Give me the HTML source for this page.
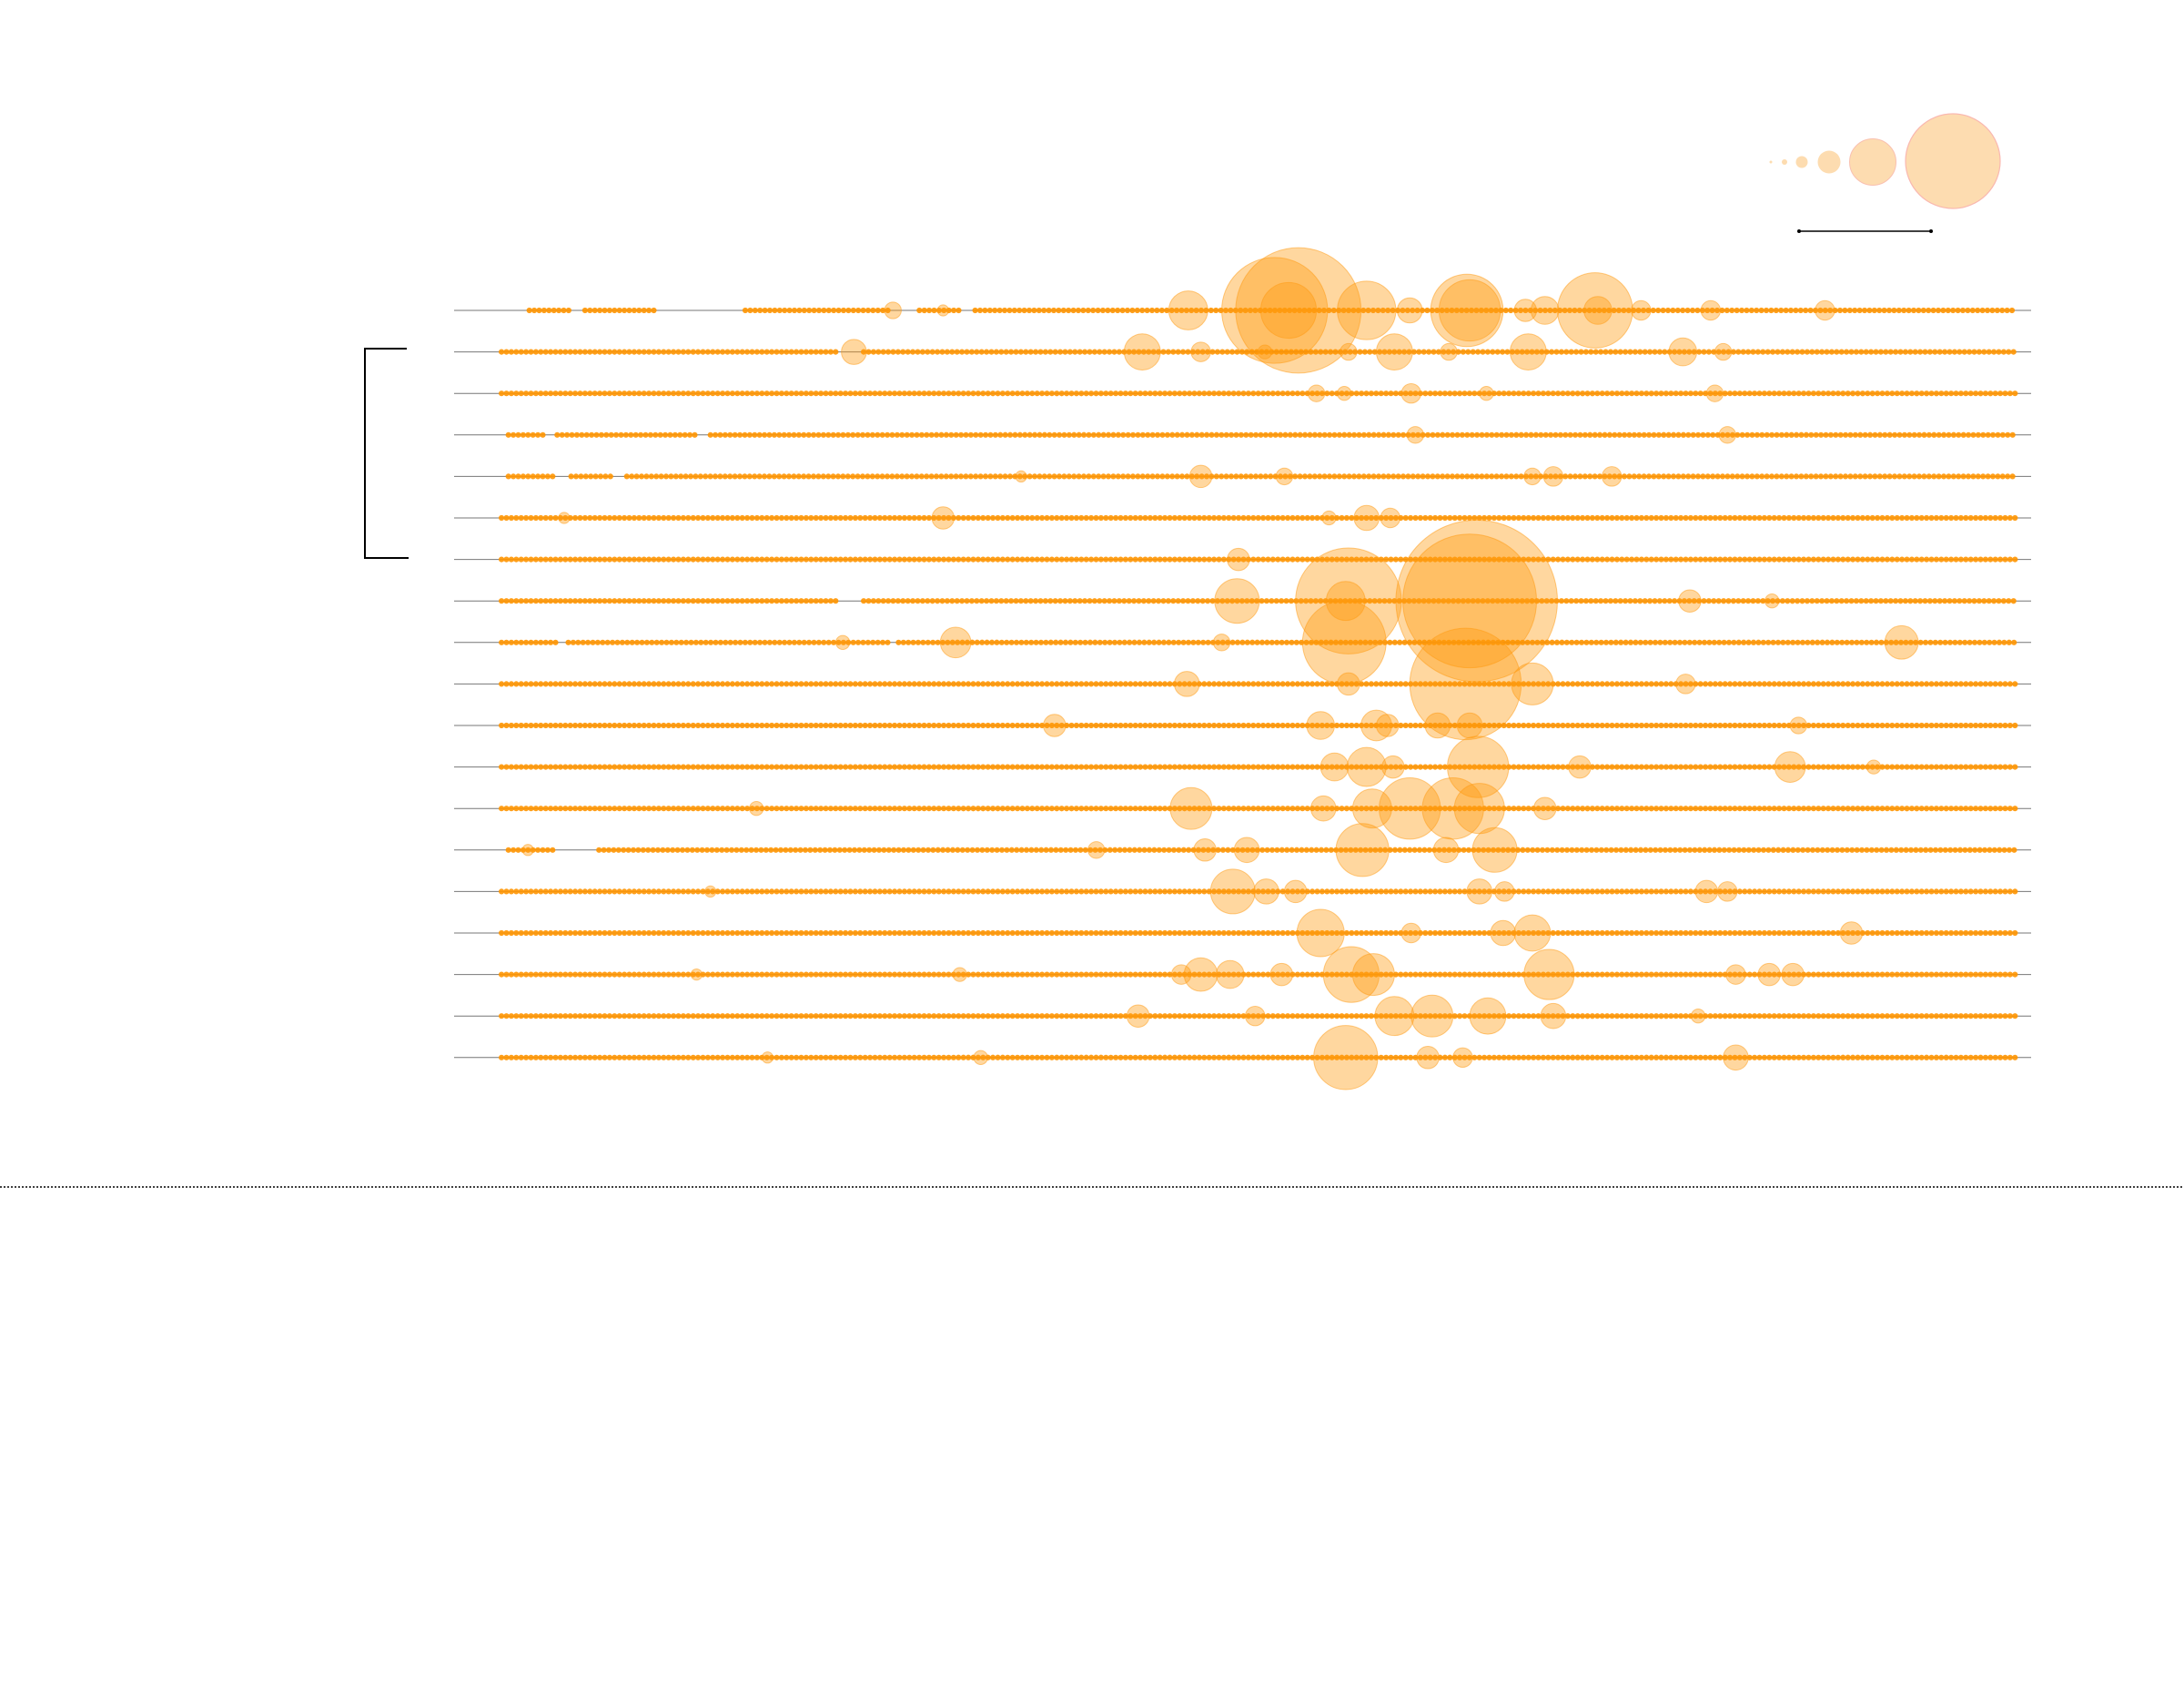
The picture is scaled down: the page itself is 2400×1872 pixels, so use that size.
<!DOCTYPE html>
<html><head><meta charset="utf-8"><style>
html,body{margin:0;padding:0;background:#fff;}
svg{display:block;font-family:"Liberation Sans",sans-serif;}
</style></head><body>
<svg id="chart" width="2400" height="1872" viewBox="0 0 2400 1872">
  <g>
    <circle cx="1946" cy="178" r="1.5" fill="#fddcb0"/>
    <circle cx="1961" cy="178" r="3" fill="#fddcb0"/>
    <circle cx="1980" cy="178" r="6.5" fill="#fddcb0"/>
    <circle cx="2010" cy="178" r="12.5" fill="#fddcb0"/>
    <circle cx="2058" cy="178" r="25.5" fill="#fddcb0" stroke="#f9c0b0" stroke-width="1"/>
    <circle cx="2146" cy="177" r="52" fill="#fddcb0" stroke="#f9b8b0" stroke-width="1.2"/>
  </g>
  <g>
    <line x1="1977" y1="254" x2="2122" y2="254" stroke="#000" stroke-width="1.5"/>
    <circle cx="1977" cy="254" r="2" fill="#000"/>
    <circle cx="2122" cy="254" r="2" fill="#000"/>
  </g>
  <path d="M447 383 H401 V613 H449" fill="none" stroke="#000" stroke-width="2"/>
  <line x1="0" y1="1304" x2="2400" y2="1304" stroke="#000" stroke-width="1.5" stroke-dasharray="2,2"/>
  <g id="rows"></g>
</svg>
<script>
const rowCount = 19;
const rowSegments = [
 [[380,410],[420,470],[535,640],[660,690],[700,1447]],
 [[360,600],[620,1447]],
 [[360,1447]],
 [[365,390],[400,500],[510,1447]],
 [[365,400],[410,440],[450,1447]],
 [[360,1447]],
 [[360,1447]],
 [[360,600],[620,1447]],
 [[360,400],[408,640],[645,1447]],
 [[360,1447]],
 [[360,1447]],
 [[360,1447]],
 [[360,1447]],
 [[365,400],[430,1447]],
 [[360,1447]],
 [[360,1447]],
 [[360,1447]],
 [[360,1447]],
 [[360,1447]]
];
const bubbleX = [
 [641,677,853,915,932,925,981,1012,1053,1055,1095,1109,1145,1147,1178,1228,1310],
 [613,820,862,1001,1040,1097,1208,1237,968,908],
 [945,965,1013,1067,1231],
 [1016,1240],
 [862,922,1100,1115,1157,733],
 [677,981,998,954,405],
 [889],
 [888,968,966,1060,1055,1213,1272],
 [686,1365,877,965,605],
 [852,1052,1100,1210,968],
 [757,948,988,996,1032,1055,1291],
 [958,981,1000,1061,1134,1285,1345],
 [855,950,985,1012,1043,1062,1109,543],
 [865,895,978,1038,1073,787,379],
 [885,909,930,1062,1080,1225,1240,510],
 [948,1079,1100,1329,1013],
 [848,862,883,920,970,986,1112,1246,1270,1287,689,500],
 [817,901,1001,1028,1068,1115,1219],
 [966,1025,1050,1246,704,551]
];
const bubbleR = [
 [6,4,14,38,45,20,21,9,26,22,8,10,27,10,7,7,7],
 [9,13,7,13,6,13,10,6,6,5],
 [6,5,7,5,6],
 [6,6],
 [8,6,6,7,7,4],
 [8,9,7,5,4],
 [8],
 [16,38,14,58,48,8,5],
 [11,12,6,30,5],
 [9,40,15,7,8],
 [8,10,11,8,9,9,6],
 [10,14,8,22,8,11,5],
 [15,9,14,22,22,18,8,5],
 [8,9,19,9,16,6,4],
 [16,9,8,9,7,8,7,4],
 [17,9,13,8,7],
 [7,12,10,8,20,15,18,7,8,8,5,4],
 [8,7,14,15,13,9,5],
 [23,8,7,9,5,4]
];
const NS='http://www.w3.org/2000/svg';
const x0=326,x1=1458,px0=499,px1=2232;
const sc=(px1-px0)/(x1-x0);
function xScale(v){return px0+(v-x0)*sc;}
function yScale(i){return 341+i*45.6;}
function rScale(r){return r*sc;}
const g=document.getElementById('rows');
for(let i=0;i<rowCount;i++){
  const y=yScale(i);
  const row=document.createElementNS(NS,'g');
  
  
  const ln=document.createElementNS(NS,'line');
  
  
  ln.setAttribute('x1',px0);ln.setAttribute('x2',px1);
  ln.setAttribute('y1',y);ln.setAttribute('y2',y);
  ln.setAttribute('stroke','#777');ln.setAttribute('stroke-width','1');
  row.appendChild(ln);
  let d='';
  rowSegments[i].forEach(s=>{
    for(let px=xScale(s[0]);px<=xScale(s[1]);px+=5.4){
      d+=`M${(px-3.1).toFixed(1)} ${y}a3.1 3.1 0 1 0 6.2 0a3.1 3.1 0 1 0 -6.2 0`;
    }
  });
  const dots=document.createElementNS(NS,'path');
  
  
  dots.setAttribute('d',d);dots.setAttribute('fill','#ff9500');dots.setAttribute('fill-opacity','0.9');
  row.appendChild(dots);
  bubbleX[i].forEach((bx,j)=>{
    const c=document.createElementNS(NS,'circle');
    
    
    c.setAttribute('cx',xScale(bx));c.setAttribute('cy',y);
    c.setAttribute('r',rScale(bubbleR[i][j]));
    c.setAttribute('fill','#ff9a10');c.setAttribute('fill-opacity','0.4');
    c.setAttribute('stroke','#ff9a10');c.setAttribute('stroke-opacity','0.5');c.setAttribute('stroke-width','1');
    row.appendChild(c);
  });
  g.appendChild(row);
}
</script>
</body></html>
